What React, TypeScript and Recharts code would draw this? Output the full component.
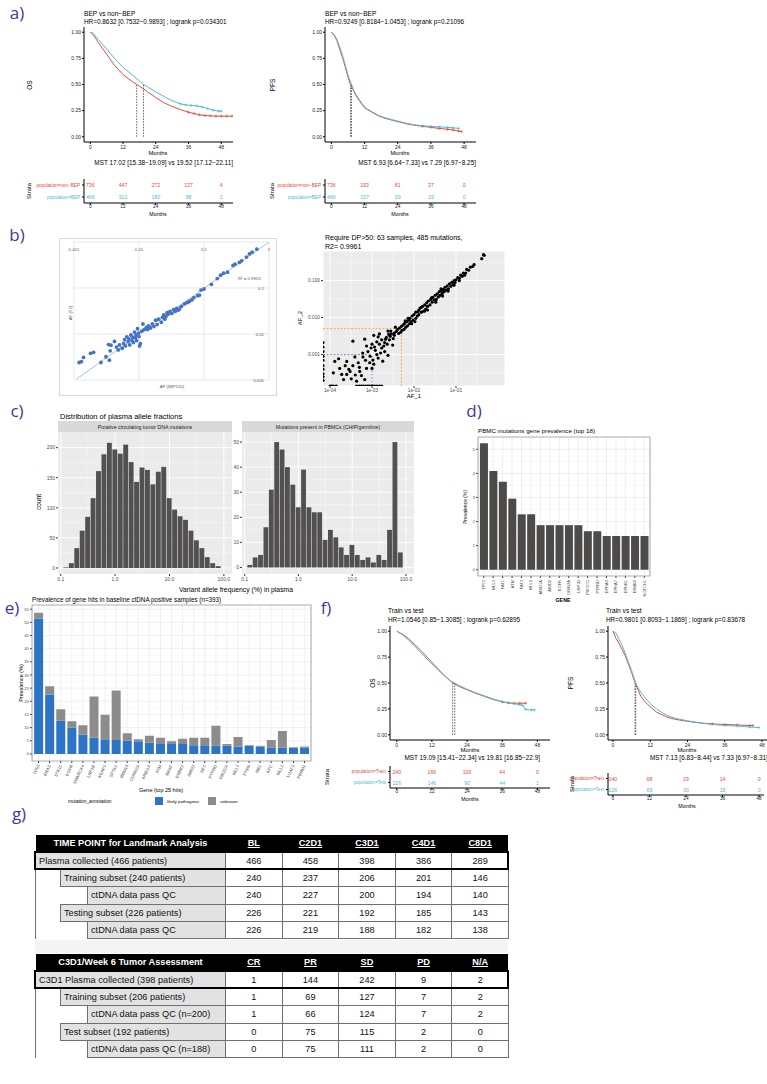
import React from 'react';
import {
  LineChart,
  Line,
  XAxis,
  YAxis,
  ReferenceLine,
  ScatterChart,
  Scatter,
  BarChart,
  Bar,
  CartesianGrid,
} from 'recharts';

const RED = '#E64B35';
const CYAN = '#4DBBD5';
const SANS = '"Liberation Sans", Arial, Helvetica, sans-serif';
const LETTER = '#3B3A98';

// ---------- a) BEP vs non-BEP ----------
const osNonBepT = [0, 1, 3, 6, 9, 12, 15, 17.02, 18, 21, 24, 27, 30, 33, 36, 38, 40, 42, 44, 46, 48, 50, 52];
const osNonBepS = [1, 0.98, 0.9, 0.79, 0.68, 0.595, 0.535, 0.5, 0.485, 0.43, 0.375, 0.325, 0.29, 0.26, 0.235, 0.222, 0.21, 0.203, 0.2, 0.198, 0.197, 0.197, 0.197];
const osBepT = [0, 1, 3, 6, 9, 12, 15, 18, 19.52, 21, 24, 27, 30, 33, 35, 37, 39, 41, 43, 45, 47, 48];
const osBepS = [1, 0.99, 0.93, 0.84, 0.745, 0.665, 0.6, 0.535, 0.5, 0.475, 0.43, 0.385, 0.345, 0.315, 0.305, 0.3, 0.295, 0.285, 0.27, 0.255, 0.245, 0.245];

const pfsNonBepT = [0, 1, 2, 3, 4, 5, 6, 6.93, 8, 9, 10, 11, 12, 13, 15, 17, 19, 21, 24, 27, 30, 33, 36, 39, 42, 44, 46, 47];
const pfsNonBepS = [1, 0.97, 0.92, 0.84, 0.76, 0.67, 0.57, 0.5, 0.44, 0.39, 0.35, 0.31, 0.28, 0.26, 0.23, 0.2, 0.18, 0.165, 0.145, 0.125, 0.11, 0.1, 0.09, 0.08, 0.072, 0.065, 0.055, 0.05];
const pfsBepT = [0, 1, 2, 3, 4, 5, 6, 7.29, 8, 9, 10, 11, 12, 13, 15, 17, 19, 21, 24, 27, 30, 33, 36, 39, 42, 44, 46];
const pfsBepS = [1, 0.98, 0.93, 0.86, 0.78, 0.69, 0.59, 0.5, 0.45, 0.4, 0.36, 0.32, 0.29, 0.265, 0.235, 0.205, 0.185, 0.17, 0.15, 0.13, 0.115, 0.105, 0.1, 0.095, 0.09, 0.085, 0.08];

const riskMonths = [0, 12, 24, 36, 48];
const riskOsNonBep = [736, 447, 272, 137, 4];
const riskOsBep = [466, 312, 180, 88, 1];
const riskPfsNonBep = [736, 193, 81, 37, 0];
const riskPfsBep = [466, 137, 59, 29, 0];

// ---------- f) train vs test ----------
const osTrainT = [0, 2, 4, 6, 8, 10, 12, 14, 16, 18, 19.09, 21, 24, 27, 30, 33, 36, 38, 40, 42, 44];
const osTrainS = [1, 0.97, 0.93, 0.875, 0.82, 0.76, 0.7, 0.64, 0.58, 0.53, 0.5, 0.47, 0.435, 0.4, 0.37, 0.34, 0.318, 0.308, 0.305, 0.305, 0.305];
const osTestT = [0, 2, 4, 6, 8, 10, 12, 14, 16, 18, 19.81, 21, 24, 27, 30, 33, 36, 38, 40, 42, 43, 44, 46, 47];
const osTestS = [1, 0.965, 0.915, 0.86, 0.8, 0.74, 0.685, 0.63, 0.575, 0.525, 0.5, 0.48, 0.44, 0.405, 0.375, 0.345, 0.32, 0.31, 0.3, 0.29, 0.285, 0.245, 0.24, 0.24];
const pfsTrainT = [0, 1, 2, 3, 4, 5, 6, 7.13, 8, 9, 10, 12, 14, 16, 18, 20, 24, 28, 32, 36, 40, 44, 45];
const pfsTrainS = [1, 0.93, 0.88, 0.82, 0.76, 0.68, 0.6, 0.5, 0.44, 0.37, 0.33, 0.27, 0.22, 0.19, 0.165, 0.15, 0.13, 0.115, 0.105, 0.1, 0.095, 0.09, 0.09];
const pfsTestT = [0, 1, 2, 3, 4, 5, 6, 7.33, 8, 9, 10, 12, 14, 16, 18, 20, 24, 28, 32, 36, 40, 44, 47];
const pfsTestS = [1, 0.98, 0.92, 0.86, 0.78, 0.7, 0.62, 0.5, 0.46, 0.41, 0.37, 0.3, 0.25, 0.21, 0.18, 0.16, 0.135, 0.115, 0.1, 0.09, 0.085, 0.075, 0.07];

const riskOsTrain = [240, 166, 100, 44, 0];
const riskOsTest = [226, 146, 90, 44, 1];
const riskPfsTrain = [240, 68, 29, 14, 0];
const riskPfsTest = [226, 69, 30, 15, 0];

// ---------- b) allele fraction concordance ----------
// Excel plot: AF (IMP150) vs AF (T7)
const excelPts = [
  [0.0012, 0.0024], [0.0013, 0.0025], [0.0014, 0.0031], [0.0018, 0.0038], [0.002, 0.004], [0.0026, 0.0024],
  [0.0031, 0.0032], [0.0034, 0.0059], [0.0036, 0.0043], [0.0037, 0.0057], [0.0035, 0.0027], [0.0042, 0.0069],
  [0.0045, 0.0052], [0.0048, 0.0045], [0.005, 0.0058], [0.0055, 0.0049], [0.0058, 0.0062], [0.006, 0.0075],
  [0.0062, 0.0055], [0.0065, 0.0087], [0.0068, 0.0068], [0.007, 0.0078], [0.0072, 0.0058], [0.0075, 0.0095],
  [0.0078, 0.0072], [0.008, 0.0085], [0.0082, 0.0065], [0.0085, 0.011], [0.0088, 0.0082], [0.009, 0.0095],
  [0.0092, 0.0072], [0.0095, 0.013], [0.0098, 0.0105], [0.01, 0.0088], [0.0102, 0.0055], [0.0105, 0.0062],
  [0.011, 0.0115], [0.0115, 0.0165], [0.012, 0.0125], [0.013, 0.014], [0.0135, 0.0125], [0.014, 0.015],
  [0.015, 0.0135], [0.016, 0.0165], [0.017, 0.0145], [0.018, 0.02], [0.019, 0.016], [0.02, 0.021],
  [0.022, 0.018], [0.023, 0.023], [0.024, 0.026], [0.025, 0.021], [0.026, 0.024], [0.027, 0.029],
  [0.028, 0.027], [0.03, 0.031], [0.032, 0.028], [0.034, 0.034], [0.036, 0.031], [0.038, 0.036],
  [0.04, 0.033], [0.042, 0.035], [0.045, 0.04], [0.05, 0.045], [0.055, 0.048], [0.058, 0.05],
  [0.06, 0.052], [0.065, 0.055], [0.07, 0.062], [0.08, 0.068], [0.085, 0.07], [0.09, 0.09],
  [0.1, 0.095], [0.13, 0.12], [0.16, 0.16], [0.18, 0.19], [0.2, 0.21], [0.23, 0.22],
  [0.28, 0.31], [0.3, 0.33], [0.35, 0.36], [0.38, 0.39], [0.45, 0.47], [0.5, 0.55], [0.55, 0.6], [0.65, 0.7],
];

// ggplot: AF_1 vs AF_2 (DP>50)
const afHighPts = [
  [0.47, 0.48], [0.45, 0.5], [0.41, 0.39], [0.27, 0.27], [0.25, 0.24], [0.22, 0.23], [0.2, 0.19], [0.18, 0.2],
  [0.17, 0.16], [0.15, 0.16], [0.14, 0.13], [0.13, 0.14], [0.12, 0.115], [0.11, 0.12], [0.1, 0.105], [0.095, 0.088],
  [0.09, 0.1], [0.085, 0.078], [0.08, 0.09], [0.075, 0.07], [0.07, 0.082], [0.066, 0.06], [0.062, 0.072], [0.058, 0.055],
  [0.055, 0.066], [0.052, 0.05], [0.05, 0.058], [0.047, 0.045], [0.045, 0.054], [0.042, 0.04], [0.04, 0.05], [0.038, 0.036],
  [0.036, 0.044], [0.034, 0.031], [0.032, 0.04], [0.03, 0.03], [0.028, 0.035], [0.027, 0.026], [0.025, 0.031], [0.024, 0.022],
  [0.022, 0.028], [0.021, 0.02], [0.02, 0.025], [0.019, 0.017], [0.018, 0.022], [0.017, 0.015], [0.016, 0.02], [0.015, 0.014],
  [0.014, 0.018], [0.013, 0.012], [0.013, 0.016], [0.012, 0.011], [0.011, 0.014], [0.011, 0.0095], [0.01, 0.012], [0.0095, 0.0085],
  [0.009, 0.011], [0.0085, 0.0078], [0.008, 0.0095], [0.0078, 0.0068], [0.0074, 0.0085], [0.007, 0.006], [0.0068, 0.0078], [0.0064, 0.0055],
  [0.006, 0.007], [0.0058, 0.0048], [0.0055, 0.0063], [0.0052, 0.0045], [0.005, 0.0058], [0.0048, 0.004], [0.0045, 0.0052], [0.0043, 0.0037],
  [0.004, 0.0047], [0.0038, 0.0042], [0.0036, 0.0055], [0.0034, 0.0038],
  [0.033, 0.026], [0.048, 0.038], [0.065, 0.052], [0.09, 0.075], [0.021, 0.016], [0.015, 0.019], [0.0105, 0.0078], [0.0072, 0.0095],
  [0.12, 0.1], [0.16, 0.14], [0.026, 0.034], [0.044, 0.06], [0.0062, 0.0082], [0.0088, 0.0068], [0.0125, 0.0145], [0.018, 0.015],
];
const afLowPts = [
  [0.00035, 0.0023], [0.00067, 0.0026], [0.001, 0.0019], [0.0015, 0.0036], [0.0024, 0.0043], [0.00013, 0.00065],
  [0.00016, 0.00077], [0.00023, 0.0005], [0.00025, 0.00029], [0.00032, 0.00022], [0.00043, 0.00019], [0.00056, 0.00027],
  [0.00074, 0.00042], [0.00088, 0.0006], [0.00105, 0.00071], [0.0013, 0.001], [0.0017, 0.0015], [0.002, 0.0021],
  [0.0024, 0.00095], [0.0003, 0.00035], [0.00019, 0.00029], [0.00047, 0.0006], [0.00061, 0.00086], [0.0008, 0.0012],
  [0.00115, 0.0016], [0.0014, 0.003], [0.0026, 0.0025], [0.0031, 0.0018], [0.0034, 0.0033], [0.0018, 0.00066],
  [0.001, 0.00042], [0.00067, 0.00021], [0.00051, 0.00035], [0.00035, 0.0005], [0.00025, 0.00065], [0.00017, 0.00042],
  [0.00012, 0.00032], [0.00021, 0.00021], [0.00039, 0.00086], [0.002, 0.0012], [0.0015, 0.0019], [0.0011, 0.0033],
  [0.0028, 0.0043], [0.00074, 0.0017], [0.0022, 0.0029], [0.0029, 0.0036], [0.0032, 0.0027],
  [0.0009, 0.0009], [0.0012, 0.0013], [0.0016, 0.0011], [0.0019, 0.0017], [0.0023, 0.0019], [0.0027, 0.0031],
  [0.0007, 0.0007], [0.0005, 0.00045], [0.0011, 0.00055], [0.0014, 0.0008], [0.0021, 0.0026], [0.0025, 0.0035],
  [0.0006, 0.0011], [0.00095, 0.0015], [0.0013, 0.0022], [0.0017, 0.0025], [0.00028, 0.0004], [0.0004, 0.00028],
];
// mutations with AF_2 = 0 (drawn on the bottom edge) and AF_1 = 0 (drawn on the left edge)
const afZeroY2 = [0.0001, 0.00011, 0.00012, 0.00014, 0.00043, 0.0005, 0.00056, 0.00062, 0.0007, 0.00078, 0.00085, 0.00095, 0.00105, 0.00115, 0.0013, 0.0015, 0.0017];
const afZeroX1 = [0.0021, 0.0016, 0.0012, 0.0009, 0.0007, 0.0005, 0.0004, 0.0003, 0.00025, 0.0002];
const orangeCut = 0.005;
const purpleCut = 0.001;

// ---------- c) VAF histograms (bin centres are log10 of VAF %) ----------
const binCenters = [-1.0, -0.9, -0.8, -0.7, -0.6, -0.5, -0.4, -0.3, -0.2, -0.1, 0, 0.1, 0.2, 0.3, 0.4, 0.5, 0.6, 0.7, 0.8, 0.9, 1.0, 1.1, 1.2, 1.3, 1.4, 1.5, 1.6, 1.7, 1.8, 1.9, 2.0, 2.1];
const ctdnaCounts = [0, 1, 8, 33, 62, 85, 116, 161, 189, 208, 197, 190, 205, 176, 143, 167, 163, 139, 160, 168, 116, 97, 86, 80, 62, 46, 33, 18, 8, 3, 0, 0];
const pbmcCounts = [0, 1, 4, 5, 16, 31, 50, 47, 40, 33, 24, 39, 24, 22, 22, 11, 15, 12, 8, 5, 9, 5, 3, 4, 2, 5, 3, 15, 50, 6, 0, 0];
const vafTickLabels = ['0.1', '1.0', '10.0', '100.0'];

// ---------- d) PBMC gene prevalence ----------
const pbmcGenes = ['TP53', 'MLL3', 'FAT1', 'ATM', 'FAT3', 'MLL2', 'ARID1A', 'ARID2', 'EGFR', 'GRIN2A', 'LRP1B', 'PIK3CG', 'PTPRD', 'EPHA3', 'EPHA7', 'EPHB1', 'ERBB4', 'NOTCH1'];
const pbmcPrev = [5.25, 4.1, 3.65, 2.95, 2.3, 2.3, 1.85, 1.85, 1.85, 1.85, 1.85, 1.6, 1.6, 1.4, 1.4, 1.4, 1.4, 1.4];

// ---------- e) ctDNA gene prevalence ----------
const ctGenes = ['TP53', 'KRAS', 'STK11', 'EGFR', 'SMARCA4', 'LRP1B', 'KEAP1', 'SPTA1', 'RBM10', 'CDKN2A', 'ARID1A', 'ATM', 'BRAF', 'ERBB2', 'ARID2', 'NF1', 'PTPRD', 'PIK3CA', 'MLL3', 'PTEN', 'RB1', 'APC', 'MLL2', 'U2AF1', 'PBRM1'];
const likelyPathogenic = [51.5, 22.6, 12.6, 10.0, 7.4, 6.1, 5.6, 5.3, 5.1, 4.8, 4.3, 4.1, 4.1, 3.8, 3.3, 3.3, 3.1, 3.1, 2.8, 3.0, 2.8, 2.3, 2.3, 2.4, 2.3];
const unknownAnno = [2.2, 3.1, 4.4, 2.4, 3.5, 15.7, 9.3, 18.8, 2.8, 0.8, 2.6, 2.0, 0.7, 2.0, 2.8, 2.8, 7.6, 0.7, 3.6, 0.3, 0.3, 3.0, 6.4, 0, 0.5];

// ---------- g) tables ----------
const landmarkHeaders = ['BL', 'C2D1', 'C3D1', 'C4D1', 'C8D1'];
const landmarkLabels = ['Plasma collected (466 patients)', 'Training subset (240 patients)', 'ctDNA data pass QC', 'Testing subset (226 patients)', 'ctDNA data pass QC'];
const landmarkValues = [
  [466, 458, 398, 386, 289],
  [240, 237, 206, 201, 146],
  [240, 227, 200, 194, 140],
  [226, 221, 192, 185, 143],
  [226, 219, 188, 182, 138],
];
const tumorHeaders = ['CR', 'PR', 'SD', 'PD', 'N/A'];
const tumorLabels = ['C3D1 Plasma collected (398 patients)', 'Training subset (206 patients)', 'ctDNA data pass QC (n=200)', 'Test subset (192 patients)', 'ctDNA data pass QC (n=188)'];
const tumorValues = [
  [1, 144, 242, 9, 2],
  [1, 69, 127, 7, 2],
  [1, 66, 124, 7, 2],
  [0, 75, 115, 2, 0],
  [0, 75, 111, 2, 0],
];
const rowIndent = [0, 1, 2, 1, 2];

const KM_TICKS = [0, 12, 24, 36, 48];

function toPts(t: number[], s: number[]) {
  return t.map((v, i) => ({ t: v, s: s[i] }));
}

type Curve = { t: number[]; s: number[]; color: string; censorFrom: number };

function KMPlot({ x, y, w, h, domain, curves, medians }: { x: number; y: number; w: number; h: number; domain: [number, number]; curves: Curve[]; medians: number[] }) {
  const yw = 20;
  const xh = 10;
  const pad = 4;
  return (
    <div style={{ position: 'absolute', left: x - yw, top: y - pad }}>
      <LineChart width={yw + w + pad} height={h + xh + pad} margin={{ top: pad, right: pad, bottom: 0, left: 0 }}>
        <XAxis type="number" dataKey="t" domain={domain} ticks={KM_TICKS} interval={0} allowDataOverflow height={xh}
          tickSize={2} tickMargin={1} stroke="#000" tick={{ fontSize: 5, fill: '#222' }} />
        <YAxis type="number" domain={[-0.05, 1.05]} ticks={[0, 0.25, 0.5, 0.75, 1]} interval={0} allowDataOverflow width={yw}
          tickFormatter={(v: number) => v.toFixed(2)} tickSize={2} tickMargin={1} stroke="#000" tick={{ fontSize: 5, fill: '#222' }} />
        {medians.map((m) => (
          <ReferenceLine key={m} segment={[{ x: m, y: 0 }, { x: m, y: 0.5 }]} stroke="#444" strokeWidth={0.8} strokeDasharray="1.6 1.2" />
        ))}
        {curves.map((c, ci) => (
          <Line key={ci} data={toPts(c.t, c.s)} dataKey="s" type="linear" stroke={c.color} strokeWidth={1}
            isAnimationActive={false}
            dot={(p: any) =>
              p.payload.t >= c.censorFrom ? (
                <path key={p.index} d={`M${p.cx - 1.4},${p.cy}h2.8M${p.cx},${p.cy - 1.4}v2.8`} stroke={c.color} strokeWidth={0.7} />
              ) : (
                <g key={p.index} />
              )
            } />
        ))}
      </LineChart>
    </div>
  );
}

type RiskRow = { label: string; color: string; counts: number[] };

function RiskTable({ x, y, w, h, domain, labelW, rows }: { x: number; y: number; w: number; h: number; domain: [number, number]; labelW: number; rows: RiskRow[] }) {
  const xh = 8;
  return (
    <div style={{ position: 'absolute', left: x - labelW, top: y }}>
      <ScatterChart width={labelW + w + 3} height={h + xh} margin={{ top: 0, right: 3, bottom: 0, left: 0 }}>
        <XAxis type="number" dataKey="t" domain={domain} ticks={KM_TICKS} interval={0} allowDataOverflow height={xh}
          tickSize={2} tickMargin={0} stroke="#000" tick={{ fontSize: 4.8, fill: '#222' }} />
        <YAxis type="number" dataKey="r" domain={[-0.5, 1.5]} ticks={[0, 1]} interval={0} width={labelW} tickSize={2} stroke="#000"
          tick={(p: any) => {
            const row = rows[rows.length - 1 - p.payload.value];
            return (
              <text x={p.x} y={p.y} textAnchor="end" dominantBaseline="central" fontSize={4.6} fill={row.color} fontFamily={SANS}>
                {row.label}
              </text>
            );
          }} />
        {rows.map((row, i) => (
          <Scatter key={row.label}
            data={riskMonths.map((t, j) => ({ t, r: rows.length - 1 - i, n: row.counts[j] }))}
            isAnimationActive={false}
            shape={(p: any) => (
              <text x={p.cx} y={p.cy} textAnchor="middle" dominantBaseline="central" fontSize={5.2} fill={row.color} fontFamily={SANS}>
                {p.payload.n}
              </text>
            )} />
        ))}
      </ScatterChart>
    </div>
  );
}

function Histogram({ x, y, w, h, yw, counts, yDomain, yTicks, yMinor }: { x: number; y: number; w: number; h: number; yw: number; counts: number[]; yDomain: [number, number]; yTicks: number[]; yMinor: number[] }) {
  const xh = 10;
  const data = binCenters.map((c, i) => ({ c, n: counts[i] }));
  return (
    <div style={{ position: 'absolute', left: x - yw, top: y }}>
      <BarChart width={yw + w + 6} height={h + xh} data={data} margin={{ top: 0, right: 6, bottom: 0, left: 0 }} barCategoryGap={0} barGap={0}>
        <CartesianGrid fill="#EBEBEB" stroke="#FFFFFF" strokeWidth={0.4} horizontalValues={yMinor} verticalValues={[-0.5, 0.5, 1.5]} />
        <CartesianGrid stroke="#FFFFFF" strokeWidth={0.9} horizontalValues={yTicks} verticalValues={[-1, 0, 1, 2]} />
        <XAxis type="number" dataKey="c" domain={[-1.05, 2.15]} ticks={[-1, 0, 1, 2]} interval={0} allowDataOverflow height={xh}
          tickFormatter={(v: number, i: number) => vafTickLabels[i]} axisLine={false} tickSize={2} tickMargin={1}
          tickLine={{ stroke: '#333' }} tick={{ fontSize: 5, fill: '#4D4D4D' }} />
        <YAxis type="number" domain={yDomain} ticks={yTicks} interval={0} allowDataOverflow width={yw} axisLine={false}
          tickSize={2} tickMargin={1} tickLine={{ stroke: '#333' }} tick={{ fontSize: 5, fill: '#4D4D4D' }} />
        <Bar dataKey="n" fill="#525050" barSize={w / binCenters.length} isAnimationActive={false} />
      </BarChart>
    </div>
  );
}

function Txt({ x, y, s = 6.5, a = 'start', r = false, c = '#000', w = 400, f = SANS, children }: any) {
  return (
    <text x={x} y={y} fontSize={s} textAnchor={a} dominantBaseline="central" fill={c} fontWeight={w} fontFamily={f}
      transform={r ? `rotate(-90 ${x} ${y})` : undefined}>
      {children}
    </text>
  );
}

const ROW_H = 17.4;

function DataTable({ top, title, headers, labels, values }: { top: number; title: string; headers: string[]; labels: string[]; values: number[][] }) {
  const colW = [25, 27, 138, 56.6, 56.6, 56.6, 56.6, 56.6];
  const cellBorder = '1px solid #6f6f6f';
  return (
    <>
      <table style={{ position: 'absolute', left: 35, top, width: 473, borderCollapse: 'collapse', tableLayout: 'fixed', fontFamily: SANS, fontSize: 9.2, color: '#111' }}>
        <colgroup>
          {colW.map((cw, i) => <col key={i} style={{ width: cw }} />)}
        </colgroup>
        <tbody>
          <tr style={{ height: 17, background: '#000', color: '#fff', fontWeight: 700 }}>
            <td colSpan={3} style={{ textAlign: 'center', padding: 0 }}>{title}</td>
            {headers.map((hd) => (
              <td key={hd} style={{ textAlign: 'center', textDecoration: 'underline', padding: 0 }}>{hd}</td>
            ))}
          </tr>
          {labels.map((lb, i) => (
            <tr key={i} style={{ height: ROW_H }}>
              {rowIndent[i] > 0 && <td colSpan={rowIndent[i]} style={{ borderLeft: cellBorder, padding: 0 }} />}
              <td colSpan={3 - rowIndent[i]} style={{ background: '#E2E2E2', border: cellBorder, padding: '0 0 0 3px', whiteSpace: 'nowrap' }}>{lb}</td>
              {values[i].map((v, j) => (
                <td key={j} style={{ textAlign: 'center', border: cellBorder, padding: 0 }}>{v}</td>
              ))}
            </tr>
          ))}
        </tbody>
      </table>
      <div style={{ position: 'absolute', left: 34, top: top + 16, width: 475, height: ROW_H + 2, border: '2px solid #000', boxSizing: 'border-box' }} />
    </>
  );
}

const AF1_MIN = 6.8e-5;
const AF1_MAX = 1.47;
const AF2_MIN = 1.41e-4;
const AF2_MAX = 0.63;

export default function App() {
  const afPoints = [...afHighPts, ...afLowPts]
    .map(([x, y]) => ({ x, y }))
    .concat(afZeroY2.map((x) => ({ x, y: AF2_MIN })))
    .concat(afZeroX1.map((y) => ({ x: AF1_MIN, y })));
  const excelData = excelPts.map(([x, y]) => ({ x, y }));
  const pbmcData = pbmcGenes.map((g, i) => ({ g, v: pbmcPrev[i] }));
  const ctData = ctGenes.map((g, i) => ({ g, lp: likelyPathogenic[i], un: unknownAnno[i] }));

  const rotTick = (angle: number, size: number) => (p: any) => (
    <text transform={`translate(${p.x},${p.y}) rotate(${angle})`} textAnchor="end" dominantBaseline="central" fontSize={size} fill="#4D4D4D" fontFamily={SANS}>
      {p.payload.value}
    </text>
  );

  const letterFont = '"Open Sans", sans-serif';

  return (
    <div style={{ position: 'absolute', left: 0, top: 0, width: 767, height: 1084, background: '#fff', overflow: 'hidden', fontFamily: SANS }}>
      {/* a) */}
      <KMPlot x={84} y={27} w={149} h={115} domain={[-2.3, 52.3]} medians={[17.02, 19.52]}
        curves={[
          { t: osNonBepT, s: osNonBepS, color: RED, censorFrom: 34 },
          { t: osBepT, s: osBepS, color: CYAN, censorFrom: 33 },
        ]} />
      <KMPlot x={325} y={27} w={151} h={115} domain={[-2.3, 52.3]} medians={[6.93, 7.29]}
        curves={[
          { t: pfsNonBepT, s: pfsNonBepS, color: RED, censorFrom: 33 },
          { t: pfsBepT, s: pfsBepS, color: CYAN, censorFrom: 33 },
        ]} />
      <RiskTable x={84} y={179} w={149} h={24} domain={[-2.3, 52.3]} labelW={50}
        rows={[
          { label: 'population=non−BEP', color: RED, counts: riskOsNonBep },
          { label: 'population=BEP', color: CYAN, counts: riskOsBep },
        ]} />
      <RiskTable x={325} y={179} w={151} h={24} domain={[-2.3, 52.3]} labelW={50}
        rows={[
          { label: 'population=non−BEP', color: RED, counts: riskPfsNonBep },
          { label: 'population=BEP', color: CYAN, counts: riskPfsBep },
        ]} />

      {/* b) left: Excel-style scatter */}
      <div style={{ position: 'absolute', left: 59, top: 238, width: 218, height: 158, border: '1px solid #D9D9D9', boxSizing: 'border-box' }} />
      <div style={{ position: 'absolute', left: 64, top: 232 }}>
        <ScatterChart width={215} height={158} margin={{ top: 10, right: 10, bottom: 10, left: 10 }}>
          <CartesianGrid stroke="#D9D9D9" strokeWidth={0.6} />
          <XAxis type="number" dataKey="x" scale="log" domain={[0.001, 1]} ticks={[0.001, 0.01, 0.1, 1]} interval={0} allowDataOverflow
            orientation="top" mirror height={1} axisLine={false} tickLine={false} tickSize={4}
            tickFormatter={(v: number, i: number) => ['0.001', '0.01', '0.1', '1'][i]} tick={{ fontSize: 4.3, fill: '#595959' }} />
          <YAxis type="number" dataKey="y" scale="log" domain={[0.001, 1]} ticks={[0.001, 0.01, 0.1]} interval={0} allowDataOverflow
            orientation="right" mirror width={1} axisLine={false} tickLine={false} tickSize={3}
            tickFormatter={(v: number, i: number) => ['0.001', '0.01', '0.1'][i]} tick={{ fontSize: 4.3, fill: '#595959' }} />
          <ReferenceLine segment={[{ x: 0.0011, y: 0.00105 }, { x: 1, y: 1 }]} stroke="#6FA8DC" strokeWidth={0.7} />
          <Scatter data={excelData} isAnimationActive={false}
            shape={(p: any) => <circle cx={p.cx} cy={p.cy} r={1.9} fill="#4472C4" />} />
        </ScatterChart>
      </div>

      {/* b) right: ggplot scatter */}
      <div style={{ position: 'absolute', left: 306, top: 251 }}>
        <ScatterChart width={17 + 182 + 2} height={135 + 9} margin={{ top: 0, right: 2, bottom: 0, left: 0 }}>
          <CartesianGrid fill="#EBEBEB" stroke="#FFFFFF" strokeWidth={0.4}
            verticalValues={[3.16e-4, 3.16e-3, 3.16e-2, 0.316]} horizontalValues={[3.16e-4, 3.16e-3, 3.16e-2, 0.316]} />
          <CartesianGrid stroke="#FFFFFF" strokeWidth={0.9} />
          <XAxis type="number" dataKey="x" scale="log" domain={[AF1_MIN, AF1_MAX]} ticks={[1e-4, 1e-3, 1e-2, 1e-1]} interval={0} allowDataOverflow
            height={9} axisLine={false} tickSize={2} tickMargin={1} tickLine={{ stroke: '#333' }}
            tickFormatter={(v: number, i: number) => ['1e-04', '1e-03', '1e-02', '1e-01'][i]} tick={{ fontSize: 4.8, fill: '#4D4D4D' }} />
          <YAxis type="number" dataKey="y" scale="log" domain={[AF2_MIN, AF2_MAX]} ticks={[0.001, 0.01, 0.1]} interval={0} allowDataOverflow
            width={17} axisLine={false} tickSize={2} tickMargin={1} tickLine={{ stroke: '#333' }}
            tickFormatter={(v: number) => v.toFixed(3)} tick={{ fontSize: 4.8, fill: '#4D4D4D' }} />
          <ReferenceLine segment={[{ x: AF1_MIN, y: orangeCut }, { x: orangeCut, y: orangeCut }]} stroke="#F2A541" strokeWidth={0.9} strokeDasharray="2 1.5" />
          <ReferenceLine segment={[{ x: orangeCut, y: AF2_MIN }, { x: orangeCut, y: orangeCut }]} stroke="#F2A541" strokeWidth={0.9} strokeDasharray="2 1.5" />
          <ReferenceLine segment={[{ x: AF1_MIN, y: purpleCut }, { x: purpleCut, y: purpleCut }]} stroke="#8080C0" strokeWidth={0.9} strokeDasharray="2 1.5" />
          <ReferenceLine segment={[{ x: purpleCut, y: AF2_MIN }, { x: purpleCut, y: purpleCut }]} stroke="#8080C0" strokeWidth={0.9} strokeDasharray="2 1.5" />
          <Scatter data={afPoints} isAnimationActive={false}
            shape={(p: any) => <circle cx={p.cx} cy={p.cy} r={1.6} fill="#000" />} />
        </ScatterChart>
      </div>

      {/* c) */}
      <Histogram x={58} y={432} w={174} h={142} yw={16} counts={ctdnaCounts} yDomain={[-10, 226]}
        yTicks={[0, 50, 100, 150, 200]} yMinor={[25, 75, 125, 175]} />
      <Histogram x={242} y={432} w={172} h={142} yw={10} counts={pbmcCounts} yDomain={[-2.6, 54]}
        yTicks={[0, 10, 20, 30, 40, 50]} yMinor={[5, 15, 25, 35, 45]} />

      {/* d) */}
      <div style={{ position: 'absolute', left: 470, top: 437 }}>
        <BarChart width={8 + 172 + 2} height={139 + 26} data={pbmcData} margin={{ top: 0, right: 2, bottom: 0, left: 0 }} barCategoryGap="10%">
          <CartesianGrid stroke="#F0F0F0" strokeWidth={0.4} vertical={false} horizontalValues={[0.5, 1.5, 2.5, 3.5, 4.5]} />
          <CartesianGrid stroke="#E4E4E4" strokeWidth={0.6} horizontalValues={[0, 1, 2, 3, 4, 5]} />
          <XAxis dataKey="g" type="category" interval={0} height={26} padding={{ left: 1, right: 1 }} axisLine={false}
            tickSize={2} tickLine={{ stroke: '#333' }} tick={rotTick(-90, 4)} />
          <YAxis type="number" domain={[-0.26, 5.51]} ticks={[0, 1, 2, 3, 4, 5]} interval={0} allowDataOverflow width={8} axisLine={false}
            tickSize={2} tickMargin={1} tickLine={{ stroke: '#333' }} tick={{ fontSize: 4.3, fill: '#4D4D4D' }} />
          <Bar dataKey="v" fill="#4D4A4A" isAnimationActive={false} />
        </BarChart>
      </div>

      {/* e) */}
      <div style={{ position: 'absolute', left: 20, top: 605 }}>
        <BarChart width={12 + 279 + 2} height={156 + 24} data={ctData} margin={{ top: 0, right: 2, bottom: 0, left: 0 }} barCategoryGap="10%">
          <CartesianGrid stroke="#F2F2F2" strokeWidth={0.4} vertical={false} horizontalValues={[2.5, 7.5, 12.5, 17.5, 22.5, 27.5, 32.5, 37.5, 42.5, 47.5, 52.5]} />
          <CartesianGrid stroke="#E6E6E6" strokeWidth={0.6} horizontalValues={[0, 5, 10, 15, 20, 25, 30, 35, 40, 45, 50, 55]} />
          <XAxis dataKey="g" type="category" interval={0} height={24} padding={{ left: 1, right: 1 }} axisLine={false}
            tickSize={2} tickLine={{ stroke: '#333' }} tick={rotTick(-65, 4.3)} />
          <YAxis type="number" domain={[-2.69, 56.6]} ticks={[0, 5, 10, 15, 20, 25, 30, 35, 40, 45, 50, 55]} interval={0} allowDataOverflow
            width={12} axisLine={false} tickSize={2} tickMargin={1} tickLine={{ stroke: '#333' }} tick={{ fontSize: 4.3, fill: '#4D4D4D' }} />
          <Bar dataKey="lp" stackId="a" fill="#2E74C6" isAnimationActive={false} />
          <Bar dataKey="un" stackId="a" fill="#8E8B8B" isAnimationActive={false} />
        </BarChart>
      </div>

      {/* f) */}
      <KMPlot x={390} y={626} w={160} h={114} domain={[-2.3, 52.3]} medians={[19.09, 19.81]}
        curves={[
          { t: osTrainT, s: osTrainS, color: RED, censorFrom: 34 },
          { t: osTestT, s: osTestS, color: CYAN, censorFrom: 36 },
        ]} />
      <KMPlot x={608} y={626} w={159} h={114} domain={[-1.6, 49.6]} medians={[7.13, 7.33]}
        curves={[
          { t: pfsTrainT, s: pfsTrainS, color: RED, censorFrom: 32 },
          { t: pfsTestT, s: pfsTestS, color: CYAN, censorFrom: 36 },
        ]} />
      <RiskTable x={390} y={766} w={160} h={22} domain={[-2.3, 52.3]} labelW={50}
        rows={[
          { label: 'population=Train', color: RED, counts: riskOsTrain },
          { label: 'population=Test', color: CYAN, counts: riskOsTest },
        ]} />
      <RiskTable x={608} y={773} w={156} h={22} domain={[-1.6, 49.6]} labelW={40}
        rows={[
          { label: 'population=Train', color: RED, counts: riskPfsTrain },
          { label: 'population=Test', color: CYAN, counts: riskPfsTest },
        ]} />

      {/* g) */}
      <DataTable top={835} title="TIME POINT for Landmark Analysis" headers={landmarkHeaders} labels={landmarkLabels} values={landmarkValues} />
      <div style={{ position: 'absolute', left: 35, top: 940, width: 473, height: 13, background: '#F4F4F4' }} />
      <DataTable top={954} title="C3D1/Week 6 Tumor Assessment" headers={tumorHeaders} labels={tumorLabels} values={tumorValues} />

      {/* text layer */}
      <svg width={767} height={1084} style={{ position: 'absolute', left: 0, top: 0, pointerEvents: 'none' }}>
        <Txt x={17} y={12} s={17} a="middle" c={LETTER} f={letterFont}>a)</Txt>
        <Txt x={17} y={234} s={17} a="middle" c={LETTER} f={letterFont}>b)</Txt>
        <Txt x={17} y={410} s={17} a="middle" c={LETTER} f={letterFont}>c)</Txt>
        <Txt x={474} y={410} s={17} a="middle" c={LETTER} f={letterFont}>d)</Txt>
        <Txt x={12} y={607} s={17} a="middle" c={LETTER} f={letterFont}>e)</Txt>
        <Txt x={326} y={607} s={17} a="middle" c={LETTER} f={letterFont}>f)</Txt>
        <Txt x={19} y={813} s={17} a="middle" c={LETTER} f={letterFont}>g)</Txt>

        {/* a) texts */}
        <Txt x={84} y={13} s={6.6}>BEP vs non−BEP</Txt>
        <Txt x={84} y={21.5} s={6.4}>HR=0.8632 [0.7532−0.9893] ; logrank p=0.034301</Txt>
        <Txt x={325} y={13} s={6.6}>BEP vs non−BEP</Txt>
        <Txt x={325} y={21.5} s={6.4}>HR=0.9249 [0.8184−1.0453] ; logrank p=0.21096</Txt>
        <Txt x={29} y={85} s={6.5} a="middle" r>OS</Txt>
        <Txt x={272} y={85} s={6.5} a="middle" r>PFS</Txt>
        <Txt x={158} y={153} s={5.8} a="middle">Months</Txt>
        <Txt x={400} y={153} s={5.8} a="middle">Months</Txt>
        <Txt x={233} y={162} s={6.4} a="end">MST 17.02 [15.38−19.09] vs 19.52 [17.12−22.11]</Txt>
        <Txt x={476} y={162} s={6.4} a="end">MST 6.93 [6.64−7.33] vs 7.29 [6.97−8.25]</Txt>
        <Txt x={29} y={191} s={6} a="middle" r>Strata</Txt>
        <Txt x={272} y={191} s={6} a="middle" r>Strata</Txt>
        <Txt x={158} y={213.5} s={5.3} a="middle">Months</Txt>
        <Txt x={400} y={213.5} s={5.3} a="middle">Months</Txt>

        {/* b) texts */}
        <Txt x={238} y={278} s={4.3} c="#595959">R² = 0.9953</Txt>
        <Txt x={70} y={313} s={4.3} a="middle" r c="#595959">AF (T7)</Txt>
        <Txt x={172} y={386} s={4.3} a="middle" c="#595959">AF (IMP150)</Txt>
        <Txt x={325} y={237} s={7}>Require DP&gt;50: 63 samples, 485 mutations,</Txt>
        <Txt x={325} y={246} s={7}>{' R2= 0.9961'}</Txt>
        <Txt x={300} y={318} s={6} a="middle" r>AF_2</Txt>
        <Txt x={414} y={396} s={6} a="middle">AF_1</Txt>

        {/* c) texts */}
        <Txt x={60} y={416} s={7.5}>Distribution of plasma allele fractions</Txt>
        <rect x={58} y={421} width={174} height={11} fill="#D9D9D9" />
        <rect x={242} y={421} width={172} height={11} fill="#D9D9D9" />
        <Txt x={145} y={426.5} s={5.2} a="middle" c="#1A1A1A">Putative circulating tumor DNA mutations</Txt>
        <Txt x={328} y={426.5} s={5.2} a="middle" c="#1A1A1A">Mutations present in PBMCs (CHIP/germline)</Txt>
        <Txt x={38} y={502} s={6.5} a="middle" r>count</Txt>
        <Txt x={236} y={589} s={6.8} a="middle">Variant allele frequency (%) in plasma</Txt>

        {/* d) texts */}
        <Txt x={478} y={430} s={6.2}>PBMC mutations gene prevalence (top 18)</Txt>
        <rect x={478} y={437} width={172} height={139} fill="none" stroke="#9A9A9A" strokeWidth={0.8} />
        <Txt x={465} y={507} s={5} a="middle" r>Prevalence (%)</Txt>
        <Txt x={563} y={600} s={5.3} a="middle" w={700}>GENE</Txt>

        {/* e) texts */}
        <Txt x={32} y={599} s={6.3}>Prevalence of gene hits in baseline ctDNA positive samples (n=393)</Txt>
        <rect x={32} y={605} width={279} height={156} fill="none" stroke="#9A9A9A" strokeWidth={0.8} />
        <Txt x={21} y={683} s={5.5} a="middle" r>Prevalence (%)</Txt>
        <Txt x={161} y={790} s={5.5} a="middle">Gene (top 25 hits)</Txt>
        <Txt x={68} y={801} s={4.8}>mutation_annotation</Txt>
        <rect x={155} y={797} width={8} height={8} fill="#2E74C6" />
        <Txt x={167} y={801} s={4.4}>likely pathogenic</Txt>
        <rect x={208} y={797} width={8} height={8} fill="#8E8B8B" />
        <Txt x={220} y={801} s={4.4}>unknown</Txt>

        {/* f) texts */}
        <Txt x={388} y={610} s={6.6}>Train vs test</Txt>
        <Txt x={388} y={619} s={6.4}>HR=1.0546 [0.85−1.3085] ; logrank p=0.62895</Txt>
        <Txt x={606} y={610} s={6.6}>Train vs test</Txt>
        <Txt x={606} y={619} s={6.4}>HR=0.9801 [0.8093−1.1869] ; logrank p=0.83678</Txt>
        <Txt x={372} y={683} s={6.5} a="middle" r>OS</Txt>
        <Txt x={570} y={683} s={6.5} a="middle" r>PFS</Txt>
        <Txt x={470} y={750} s={5.8} a="middle">Months</Txt>
        <Txt x={687} y={750} s={5.8} a="middle">Months</Txt>
        <Txt x={540} y={757} s={6.4} a="end">MST 19.09 [15.41−22.34] vs 19.81 [16.85−22.9]</Txt>
        <Txt x={650} y={757} s={6.4}>MST 7.13 [6.83−8.44] vs 7.33 [6.97−8.31]</Txt>
        <Txt x={327} y={777} s={6} a="middle" r>Strata</Txt>
        <Txt x={572} y={784} s={6} a="middle" r>Strata</Txt>
        <Txt x={470} y={799} s={5.3} a="middle">Months</Txt>
        <Txt x={687} y={806} s={5.3} a="middle">Months</Txt>
      </svg>
    </div>
  );
}
